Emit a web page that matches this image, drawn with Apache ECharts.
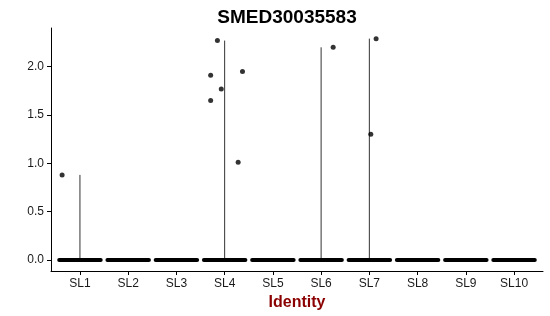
<!DOCTYPE html>
<html><head><meta charset="utf-8">
<script src="https://cdn.jsdelivr.net/npm/echarts@6/dist/echarts.min.js"></script>
<style>html,body{margin:0;padding:0;background:#fff}#c{width:550px;height:316px}</style>
</head><body><div id="c"></div>
<script>
const categories = ['SL1','SL2','SL3','SL4','SL5','SL6','SL7','SL8','SL9','SL10'];
const yTicks = [0, 0.5, 1.0, 1.5, 2.0];
// violin maximum per identity (violins collapse to a line since nearly all values are 0)
const violinMax = [0.88, 0, 0, 2.27, 0, 2.20, 2.29, 0, 0, 0];
// non-zero jittered points: identity index (1-based), horizontal jitter (in category units), value
const pointCat    = [1,     4,     4,     4,     4,     4,     4,     6,     7,     7];
const pointJitter = [-0.37, -0.15, -0.29, 0.37,  -0.07, -0.29, 0.28,  0.25,  0.14,  0.03];
const pointValue  = [0.88,  2.27,  1.91,  1.95,  1.77,  1.65,  1.01,  2.20,  2.29,  1.30];
const jitterHalf = 0.43;

const chart = echarts.init(document.getElementById('c'));
const series = [];
categories.forEach((c, i) => {
  const x = i + 1;
  series.push({type:'line', data:[[x - jitterHalf, 0],[x + jitterHalf, 0]], symbol:'none', silent:true,
    lineStyle:{color:'#000', width:4, cap:'round'}, z:3});
  if (violinMax[i] > 0) {
    series.push({type:'line', data:[[x, 0],[x, violinMax[i]]], symbol:'none', silent:true,
      lineStyle:{color:'#333', width:1}, z:2});
  }
});
series.push({type:'scatter', symbol:'circle', symbolSize:5, itemStyle:{color:'#000'}, z:4,
  data: pointCat.map((c, i) => [c + pointJitter[i], pointValue[i]])});

chart.setOption({
  animation:false,
  title:{text:'SMED30035583', left:282, top:3, textAlign:'center',
    textStyle:{fontFamily:'Liberation Sans', fontSize:19, fontWeight:'bold', color:'#000'}},
  grid:{left:51, right:7, top:28, bottom:45, containLabel:false, outerBoundsMode:'none'},
  xAxis:{type:'value', min:0.4, max:10.6,
    name:'Identity', nameLocation:'middle', nameGap:22,
    nameTextStyle:{fontFamily:'Liberation Sans', fontSize:16, fontWeight:'bold', color:'#8b0000'},
    axisLine:{onZero:false, lineStyle:{color:'#000', width:1}},
    axisTick:{show:true, length:4, customValues:categories.map((c,i)=>i+1), lineStyle:{color:'#000'}},
    axisLabel:{customValues:categories.map((c,i)=>i+1), formatter:v=>categories[Math.round(v)-1],
      fontFamily:'Liberation Sans', fontSize:12, color:'#1a1a1a', margin:7},
    splitLine:{show:false}},
  yAxis:{type:'value', min:-0.1145, max:2.40,
    axisLine:{show:true, onZero:false, lineStyle:{color:'#000', width:1}},
    axisTick:{show:true, length:4, customValues:yTicks, lineStyle:{color:'#000'}},
    axisLabel:{customValues:yTicks, formatter:v=>v.toFixed(1),
      fontFamily:'Liberation Sans', fontSize:12, color:'#1a1a1a', margin:7},
    splitLine:{show:false}},
  series: series
});
</script></body></html>
